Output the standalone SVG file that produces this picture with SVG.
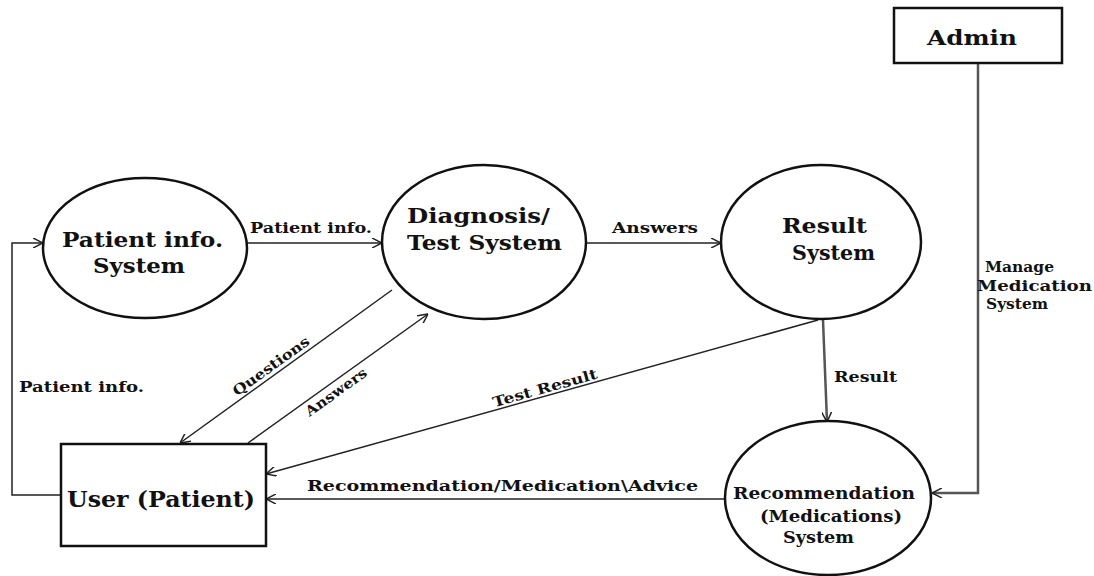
<svg xmlns="http://www.w3.org/2000/svg" width="1094" height="576" viewBox="0 0 1094 576">
<style>
.node{fill:#fff;stroke:#111;stroke-width:2.5}
.t{font-family:"DejaVu Serif","Liberation Serif",serif;font-weight:bold;fill:#111}
.big{font-size:21px}
.mid{font-size:16px}
.lbl{font-size:14px}
.c{fill:none;stroke:#222;stroke-width:1.5}
.g{stroke:#555;stroke-width:2.5}
</style>
<defs>
<marker id="a" viewBox="0 0 10 10" markerWidth="10" markerHeight="10" refX="10" refY="5" orient="auto" markerUnits="userSpaceOnUse">
<path d="M0,0 L10,5 L0,10" fill="none" stroke="#222" stroke-width="1.5"/>
</marker>
</defs>
<rect width="1094" height="576" fill="#fff"/>
<g id="connectors">
<path class="c" d="M247,243 H382" marker-end="url(#a)"/>
<path class="c" d="M587,243 H721" marker-end="url(#a)"/>
<path class="c" d="M61,495 H12 V243 H43" marker-end="url(#a)"/>
<path class="c" d="M392,290 L180,443" marker-end="url(#a)"/>
<path class="c" d="M248,443 L428,314" marker-end="url(#a)"/>
<path class="c" d="M818,320 L266,474" marker-end="url(#a)"/>
<path class="c g" d="M823,320 L827,422" marker-end="url(#a)"/>
<path class="c" d="M726,499 H266" marker-end="url(#a)"/>
<path class="c g" d="M978,63 V493 H932" marker-end="url(#a)"/>
<text class="t lbl" x="250" y="233" textLength="122" lengthAdjust="spacingAndGlyphs">Patient info.</text>
<text class="t lbl" x="612" y="233" textLength="86" lengthAdjust="spacingAndGlyphs">Answers</text>
<text class="t lbl" x="19" y="392" textLength="125" lengthAdjust="spacingAndGlyphs">Patient info.</text>
<text class="t lbl" x="834" y="382" textLength="63" lengthAdjust="spacingAndGlyphs">Result</text>
<text class="t lbl" x="307" y="491" textLength="391" lengthAdjust="spacingAndGlyphs">Recommendation/Medication\Advice</text>
<text class="t lbl" x="985" y="272" textLength="69" lengthAdjust="spacingAndGlyphs">Manage</text>
<text class="t lbl" x="977" y="291" textLength="115" lengthAdjust="spacingAndGlyphs">Medication</text>
<text class="t lbl" x="986" y="309" textLength="62" lengthAdjust="spacingAndGlyphs">System</text>
<text class="t lbl" text-anchor="middle" dy="0.35em" transform="translate(271,366) rotate(-35.8)" textLength="91" lengthAdjust="spacingAndGlyphs">Questions</text>
<text class="t lbl" text-anchor="middle" dy="0.35em" transform="translate(336,392) rotate(-35.6)" textLength="72" lengthAdjust="spacingAndGlyphs">Answers</text>
<text class="t lbl" text-anchor="middle" dy="0.35em" transform="translate(545,388) rotate(-15.6)" textLength="108" lengthAdjust="spacingAndGlyphs">Test Result</text>
</g>
<g id="patient-info-system">
<ellipse class="node" cx="145" cy="248" rx="102" ry="70"/>
<text class="t big" x="62" y="247" textLength="161" lengthAdjust="spacingAndGlyphs">Patient info.</text>
<text class="t big" x="93" y="273" textLength="92" lengthAdjust="spacingAndGlyphs">System</text>
</g>
<g id="diagnosis-test-system">
<ellipse class="node" cx="484" cy="242" rx="102" ry="77"/>
<text class="t big" x="407" y="223" textLength="143" lengthAdjust="spacingAndGlyphs">Diagnosis/</text>
<text class="t big" x="407" y="250" textLength="155" lengthAdjust="spacingAndGlyphs">Test System</text>
</g>
<g id="result-system">
<ellipse class="node" cx="821" cy="242" rx="100" ry="77"/>
<text class="t big" x="782" y="233" textLength="85" lengthAdjust="spacingAndGlyphs">Result</text>
<text class="t big" x="792" y="260" textLength="83" lengthAdjust="spacingAndGlyphs">System</text>
</g>
<g id="recommendation-system">
<ellipse class="node" cx="828" cy="498" rx="103" ry="77"/>
<text class="t mid" x="733" y="499" textLength="182" lengthAdjust="spacingAndGlyphs">Recommendation</text>
<text class="t mid" x="760" y="522" textLength="142" lengthAdjust="spacingAndGlyphs">(Medications)</text>
<text class="t mid" x="783" y="543" textLength="71" lengthAdjust="spacingAndGlyphs">System</text>
</g>
<g id="user-patient">
<rect class="node" x="61" y="444" width="205" height="102"/>
<text class="t big" x="67" y="507" textLength="188" lengthAdjust="spacingAndGlyphs" style="font-size:22px">User (Patient)</text>
</g>
<g id="admin">
<rect class="node" x="894" y="8" width="168" height="55"/>
<text class="t big" x="927" y="45" textLength="90" lengthAdjust="spacingAndGlyphs">Admin</text>
</g>
</svg>
